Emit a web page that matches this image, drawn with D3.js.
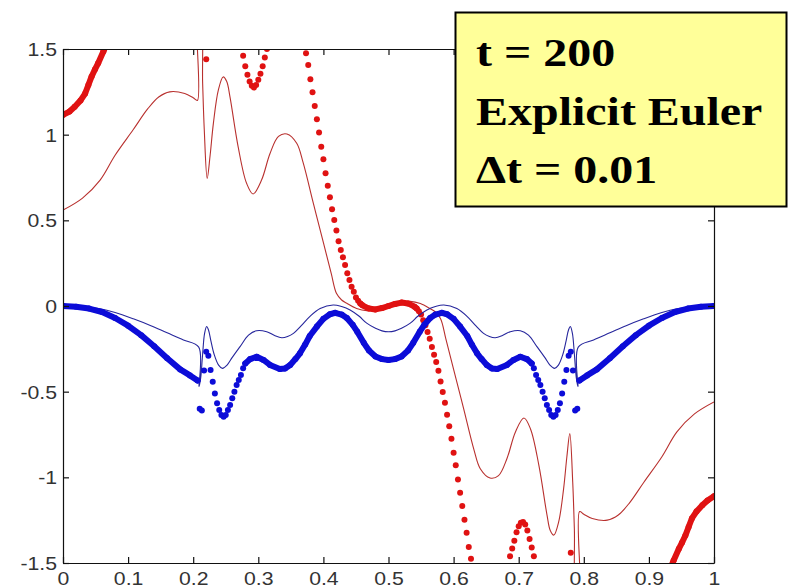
<!DOCTYPE html>
<html>
<head>
<meta charset="utf-8">
<script src="https://cdn.jsdelivr.net/npm/d3@7"></script>
<style>
  html, body { margin: 0; padding: 0; background: #fff; }
  svg { display: block; }
</style>
</head>
<body>
<svg id="chart" width="788" height="588"></svg>
<script>
// Axis ticks
const xTicks = [0, 0.1, 0.2, 0.3, 0.4, 0.5, 0.6, 0.7, 0.8, 0.9, 1];
const xTickLabels = ["0", "0.1", "0.2", "0.3", "0.4", "0.5", "0.6", "0.7", "0.8", "0.9", "1"];
const yTicks = [-1.5, -1, -0.5, 0, 0.5, 1, 1.5];
const yTickLabels = ["-1.5", "-1", "-0.5", "0", "0.5", "1", "1.5"];

// Annotation text
const noteLines = ["t = 200", "Explicit Euler", "\u0394t = 0.01"];

// Reference solution, first component (thin red line)
const redExact = [
  [0, 0.56], [0.03, 0.63], [0.057, 0.735], [0.08, 0.88], [0.108, 1.03], [0.13, 1.15],
  [0.147, 1.22], [0.164, 1.25], [0.187, 1.24], [0.2, 1.215], [0.2065, 1.2], [0.2072, 1.7],
  [0.2112, 1.7], [0.2145, 1.3], [0.217, 1.03], [0.2215, 0.745], [0.226, 0.88], [0.231, 1.066],
  [0.2386, 1.26], [0.246, 1.337], [0.2515, 1.31], [0.2565, 1.22], [0.269, 0.93], [0.282, 0.716],
  [0.292, 0.654], [0.305, 0.735], [0.318, 0.89], [0.331, 0.99], [0.344, 1.004], [0.359, 0.95],
  [0.369, 0.835], [0.3845, 0.6], [0.4, 0.37], [0.412, 0.19], [0.42, 0.074], [0.428, 0.035],
  [0.436, 0.016], [0.451, -0.014], [0.4665, -0.027], [0.485, -0.018], [0.5, 0],
  [0.515, 0.018], [0.5335, 0.027], [0.549, 0.014], [0.564, -0.016], [0.572, -0.035],
  [0.58, -0.074], [0.588, -0.19], [0.6, -0.37], [0.6155, -0.6], [0.631, -0.835], [0.641, -0.95],
  [0.656, -1.004], [0.669, -0.99], [0.682, -0.89], [0.695, -0.735], [0.708, -0.654],
  [0.718, -0.716], [0.731, -0.93], [0.7435, -1.22], [0.7485, -1.31], [0.754, -1.337],
  [0.7614, -1.26], [0.769, -1.066], [0.774, -0.88], [0.7785, -0.745], [0.783, -1.03],
  [0.7855, -1.3], [0.7888, -1.7], [0.7928, -1.7], [0.7935, -1.2], [0.8, -1.215], [0.813, -1.24],
  [0.836, -1.25], [0.853, -1.22], [0.87, -1.15], [0.892, -1.03], [0.92, -0.88], [0.943, -0.735],
  [0.97, -0.63], [1, -0.56]
];

// Reference solution, second component (thin blue line)
const blueExact = [
  [0, 0], [0.03, -0.004], [0.057, -0.016], [0.08, -0.038], [0.108, -0.075], [0.135, -0.115],
  [0.159, -0.155], [0.185, -0.198], [0.2085, -0.24], [0.209, -0.47], [0.2115, -0.42],
  [0.2145, -0.28], [0.2175, -0.16], [0.2207, -0.12], [0.2235, -0.14], [0.227, -0.2],
  [0.232, -0.28], [0.239, -0.345], [0.245, -0.364], [0.252, -0.345], [0.26, -0.3],
  [0.272, -0.237], [0.285, -0.17], [0.2975, -0.144], [0.3129, -0.15], [0.325, -0.172],
  [0.336, -0.185], [0.345, -0.178], [0.354, -0.16], [0.366, -0.115], [0.379, -0.062],
  [0.395, -0.015], [0.415, 0.006], [0.428, -0.003], [0.441, -0.023], [0.455, -0.06],
  [0.4665, -0.1], [0.48, -0.13], [0.49, -0.145], [0.5, -0.15],
  [0.51, -0.145], [0.52, -0.13], [0.5335, -0.1], [0.545, -0.06], [0.559, -0.023],
  [0.572, -0.003], [0.585, 0.006], [0.605, -0.015], [0.621, -0.062], [0.634, -0.115],
  [0.646, -0.16], [0.655, -0.178], [0.664, -0.185], [0.675, -0.172], [0.6871, -0.15],
  [0.7025, -0.144], [0.715, -0.17], [0.728, -0.237], [0.74, -0.3], [0.748, -0.345],
  [0.755, -0.364], [0.761, -0.345], [0.768, -0.28], [0.773, -0.2], [0.7765, -0.14],
  [0.7793, -0.12], [0.7825, -0.16], [0.7855, -0.28], [0.7885, -0.42], [0.791, -0.47],
  [0.7915, -0.24], [0.815, -0.198], [0.841, -0.155], [0.865, -0.115], [0.892, -0.075],
  [0.92, -0.038], [0.943, -0.016], [0.97, -0.004], [1, 0]
];

// Explicit Euler result, first component: stretches where the markers run together
const redNumericBands = [
  [[0, 1.115], [0.01, 1.135], [0.018, 1.163], [0.027, 1.2], [0.034, 1.24], [0.039, 1.29],
   [0.044, 1.34], [0.049, 1.38], [0.054, 1.417], [0.062, 1.485], [0.068, 1.54]],
  [[0.4567, 0.015], [0.46, 0.004], [0.47, -0.015], [0.48, -0.02], [0.49, -0.012], [0.5, 0],
   [0.51, 0.012], [0.52, 0.02], [0.53, 0.015], [0.54, -0.004], [0.5433, -0.015]],
  [[0.932, -1.54], [0.938, -1.485], [0.946, -1.417], [0.951, -1.38], [0.956, -1.34],
   [0.961, -1.29], [0.966, -1.24], [0.973, -1.2], [0.982, -1.163], [0.99, -1.135], [1, -1.11]]
];

// Explicit Euler result, first component: separated grid-point markers
const redNumericPoints = [
  [0.22, 1.44],
  [0.2733, 1.52], [0.2767, 1.46], [0.28, 1.4], [0.2833, 1.35], [0.2867, 1.31], [0.29, 1.285],
  [0.2933, 1.275], [0.2967, 1.29], [0.3, 1.32], [0.3033, 1.355], [0.3067, 1.4], [0.31, 1.45],
  [0.3133, 1.5],
  [0.37, 1.54], [0.3733, 1.475], [0.3767, 1.407], [0.38, 1.323], [0.3833, 1.247], [0.3867, 1.168],
  [0.39, 1.09], [0.3933, 1.012], [0.3967, 0.93], [0.4, 0.856], [0.4033, 0.775], [0.4067, 0.702],
  [0.41, 0.635], [0.4133, 0.564], [0.4167, 0.502], [0.42, 0.44], [0.4233, 0.378], [0.4267, 0.327],
  [0.43, 0.284], [0.4333, 0.239], [0.4367, 0.191], [0.44, 0.152], [0.4433, 0.113],
  [0.4467, 0.0835], [0.45, 0.05], [0.4533, 0.03],
  [0.5467, -0.03], [0.55, -0.05], [0.5533, -0.0835], [0.5567, -0.113], [0.56, -0.152],
  [0.5633, -0.191], [0.5667, -0.239], [0.57, -0.284], [0.5733, -0.327], [0.5767, -0.378],
  [0.58, -0.44], [0.5833, -0.502], [0.5867, -0.564], [0.59, -0.635], [0.5933, -0.702],
  [0.5967, -0.775], [0.6, -0.856], [0.6033, -0.93], [0.6067, -1.012], [0.61, -1.09],
  [0.6133, -1.168], [0.6167, -1.247], [0.62, -1.323], [0.6233, -1.407], [0.6267, -1.475],
  [0.63, -1.54],
  [0.6833, -1.52], [0.6867, -1.46], [0.69, -1.415], [0.6933, -1.37], [0.6967, -1.32],
  [0.7, -1.285], [0.7033, -1.265], [0.7067, -1.26], [0.71, -1.275], [0.7133, -1.31],
  [0.7167, -1.36], [0.72, -1.41], [0.7233, -1.46], [0.7267, -1.52],
  [0.78, -1.44]
];

// Explicit Euler result, second component: stretches where the markers run together
const blueNumericBands = [
  [[0, 0], [0.02, -0.004], [0.04, -0.015], [0.06, -0.035], [0.08, -0.07], [0.1, -0.115],
   [0.12, -0.17], [0.14, -0.235], [0.16, -0.305], [0.18, -0.37], [0.195, -0.405], [0.2067, -0.435]],
  [[0.28, -0.335], [0.2875, -0.31], [0.2975, -0.296], [0.308, -0.315], [0.318, -0.344],
   [0.333, -0.368], [0.341, -0.365], [0.349, -0.344], [0.357, -0.31], [0.364, -0.276],
   [0.372, -0.225], [0.379, -0.175], [0.39, -0.12], [0.4, -0.075], [0.41, -0.048], [0.418, -0.04],
   [0.428, -0.05], [0.436, -0.07], [0.445, -0.11], [0.452, -0.15], [0.462, -0.215], [0.47, -0.26],
   [0.48, -0.295], [0.49, -0.31], [0.5, -0.315], [0.51, -0.31], [0.52, -0.295], [0.53, -0.26],
   [0.538, -0.215], [0.548, -0.15], [0.555, -0.11], [0.564, -0.07], [0.572, -0.05], [0.582, -0.04],
   [0.59, -0.048], [0.6, -0.075], [0.61, -0.12], [0.621, -0.175], [0.628, -0.225], [0.636, -0.276],
   [0.643, -0.31], [0.651, -0.344], [0.659, -0.365], [0.667, -0.368], [0.682, -0.344],
   [0.692, -0.315], [0.7025, -0.296], [0.7125, -0.31], [0.72, -0.335]],
  [[0.7933, -0.435], [0.805, -0.405], [0.82, -0.37], [0.84, -0.305], [0.86, -0.235], [0.88, -0.17],
   [0.9, -0.115], [0.92, -0.07], [0.94, -0.035], [0.96, -0.015], [0.98, -0.004], [1, 0]]
];

// Explicit Euler result, second component: separated grid-point markers
const blueNumericPoints = [
  [0.21, -0.6], [0.2133, -0.61], [0.2167, -0.376], [0.22, -0.267], [0.2233, -0.29],
  [0.2267, -0.374], [0.23, -0.442], [0.2333, -0.51], [0.2367, -0.568], [0.24, -0.607],
  [0.2433, -0.636], [0.2467, -0.646], [0.25, -0.636], [0.2533, -0.607], [0.2567, -0.578],
  [0.26, -0.539], [0.2633, -0.5], [0.2667, -0.461], [0.27, -0.432], [0.2733, -0.403],
  [0.2767, -0.364],
  [0.7233, -0.364], [0.7267, -0.403], [0.73, -0.432], [0.7333, -0.461], [0.7367, -0.5],
  [0.74, -0.539], [0.7433, -0.578], [0.7467, -0.607], [0.75, -0.636], [0.7533, -0.646],
  [0.7567, -0.636], [0.76, -0.607], [0.7633, -0.568], [0.7667, -0.51], [0.77, -0.442],
  [0.7733, -0.374], [0.7767, -0.29], [0.78, -0.267], [0.7833, -0.376], [0.7867, -0.61],
  [0.79, -0.6]
];

// ---- drawing ----
const svg = d3.select("#chart");
const plotLeft = 63, plotRight = 714, plotTop = 49, plotBottom = 563;
const x = d3.scaleLinear().domain([0, 1]).range([plotLeft, plotRight]);
const y = d3.scaleLinear().domain([-1.5, 1.5]).range([plotBottom, plotTop]);

const RED_DOT = "#e01212", RED_LINE = "#b8302e";
const BLUE_DOT = "#0c0cd8", BLUE_LINE = "#26269c";
const DOT_R = 3.0, BAND_W = 6.0;
const TEXT_STRETCH = 1.18;

svg.append("rect").attr("width", 788).attr("height", 588).attr("fill", "#fff");

svg.append("defs").append("clipPath").attr("id", "plotArea")
  .append("rect").attr("x", plotLeft).attr("y", plotTop)
  .attr("width", plotRight - plotLeft).attr("height", plotBottom - plotTop);

const plot = svg.append("g").attr("clip-path", "url(#plotArea)");

const thinLine = d3.line().x(d => x(d[0])).y(d => y(d[1])).curve(d3.curveCatmullRom.alpha(0.5));
const bandLine = d3.line().x(d => x(d[0])).y(d => y(d[1])).curve(d3.curveLinear);

function drawNumeric(bands, points, color) {
  plot.append("g").selectAll("path").data(bands).join("path")
    .attr("d", bandLine)
    .attr("fill", "none").attr("stroke", color)
    .attr("stroke-width", BAND_W)
    .attr("stroke-linecap", "round").attr("stroke-linejoin", "round");
  plot.append("g").selectAll("circle").data(points.concat(bands.flat())).join("circle")
    .attr("cx", d => x(d[0])).attr("cy", d => y(d[1]))
    .attr("r", DOT_R).attr("fill", color);
}

function drawExact(data, color) {
  plot.append("path").datum(data)
    .attr("d", thinLine)
    .attr("fill", "none").attr("stroke", color)
    .attr("stroke-width", 1.1);
}

drawExact(redExact, RED_LINE);
drawNumeric(redNumericBands, redNumericPoints, RED_DOT);
drawExact(blueExact, BLUE_LINE);
drawNumeric(blueNumericBands, blueNumericPoints, BLUE_DOT);

// Axes: ticks point inward on all four sides
const tickFont = "'Liberation Sans', Arial, sans-serif";
const axisColor = "#111";

const xAxisBottom = d3.axisBottom(x).tickValues(xTicks)
  .tickFormat((d, i) => xTickLabels[i]).tickSizeInner(-6).tickSizeOuter(0).tickPadding(10);
const gB = svg.append("g").attr("transform", `translate(0,${plotBottom})`).call(xAxisBottom);

const xAxisTop = d3.axisTop(x).tickValues(xTicks).tickFormat("").tickSizeInner(-6).tickSizeOuter(0);
const gT = svg.append("g").attr("transform", `translate(0,${plotTop})`).call(xAxisTop);

const yAxisLeft = d3.axisLeft(y).tickValues(yTicks)
  .tickFormat((d, i) => yTickLabels[i]).tickSizeInner(-6).tickSizeOuter(0).tickPadding(6 / TEXT_STRETCH);
const gL = svg.append("g").attr("transform", `translate(${plotLeft},0)`).call(yAxisLeft);

const yAxisRight = d3.axisRight(y).tickValues(yTicks).tickFormat("").tickSizeInner(-6).tickSizeOuter(0);
const gR = svg.append("g").attr("transform", `translate(${plotRight},0)`).call(yAxisRight);

[gB, gT, gL, gR].forEach(g => {
  g.selectAll(".domain").attr("stroke", axisColor).attr("stroke-width", 1.2);
  g.selectAll(".tick line").attr("stroke", axisColor).attr("stroke-width", 1.2);
  g.selectAll("text")
    .attr("font-family", tickFont).attr("font-size", 18).attr("fill", "#333")
    .attr("transform", `scale(${TEXT_STRETCH},1)`);
});
gB.selectAll("text").attr("dy", "0.71em").attr("y", 9);
gL.selectAll("text").attr("dy", "0.36em");

// Annotation box
const note = svg.append("g");
note.append("rect")
  .attr("x", 455.5).attr("y", 12.5).attr("width", 331).attr("height", 194)
  .attr("fill", "#ffff99").attr("stroke", "#000").attr("stroke-width", 2);
note.selectAll("g.line").data(noteLines).join("g")
  .attr("class", "line")
  .attr("transform", (d, i) => `translate(476,${66 + i * 58.5}) scale(1.17,1)`)
  .append("text")
  .attr("font-family", "'Liberation Serif', 'Times New Roman', serif")
  .attr("font-weight", "bold").attr("font-size", 41).attr("fill", "#000")
  .text(d => d);
</script>
</body>
</html>
